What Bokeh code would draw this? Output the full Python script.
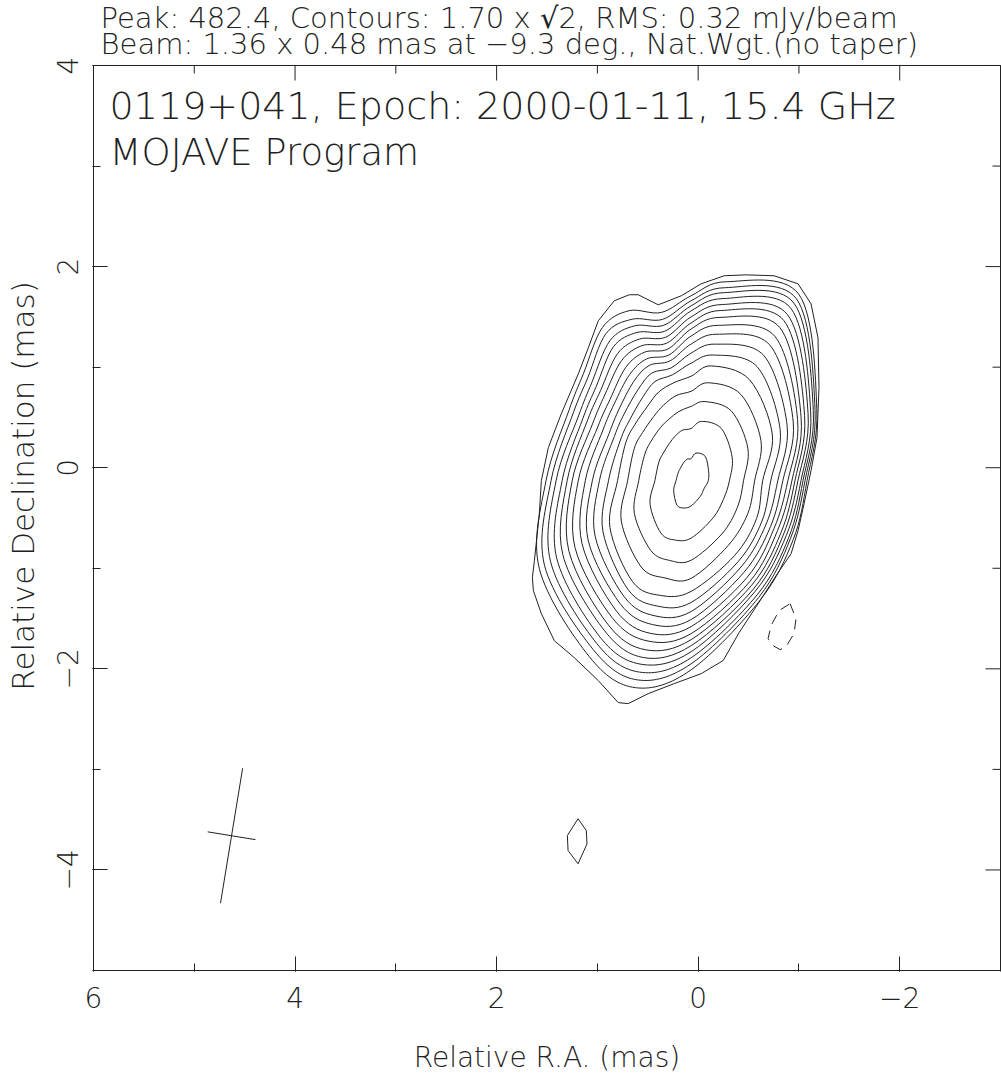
import numpy as np
from bokeh.plotting import figure
from bokeh.models import Range1d, SingleIntervalTicker, Label
from bokeh.embed import file_html
from bokeh.resources import INLINE

# ---------------- text ----------------
FONT = "DejaVu Sans Light, DejaVu Sans"
header_lines = ["Peak: 482.4, Contours: 1.70 x \u221a2, RMS: 0.32 mJy/beam",
                "Beam: 1.36 x 0.48 mas at \u22129.3 deg., Nat.Wgt.(no taper)"]
inner_lines = ["0119+041, Epoch: 2000-01-11, 15.4 GHz", "MOJAVE Program"]
x_label = "Relative R.A. (mas)"
y_label = "Relative Declination (mas)"
x_tick_labels = {6: "6", 4: "4", 2: "2", 0: "0", -2: "\u22122"}
y_tick_labels = {4: "4", 2: "2", 0: "0", -2: "\u22122", -4: "\u22124"}
x_major_ticks = [6, 4, 2, 0, -2]
x_minor_ticks = [5, 3, 1, -1, -3]
y_major_ticks = [4, 2, 0, -2, -4]
y_minor_ticks = [3, 1, -1, -3, -5]
map_ra = (6, -3)      # R.A. extent of the map box (mas)
map_dec = (-5, 4)     # Dec. extent of the map box (mas)

# ---------------- restoring beam ----------------
beam_major = 1.36
beam_minor = 0.48
beam_pa_deg = -9.3
beam_center_x = 4.63
beam_center_y = -3.66

# ---------------- contours (mas) ----------------
# outermost contour (1.70 mJy/beam), read point by point
outer_x = [0.833, 0.684, 0.595, 0.396, 0.168, -0.030, -0.258, -0.476, -0.753, -0.991,
           -1.120, -1.189, -1.199, -1.179, -1.120, -1.051, -0.991, -0.922, -0.773, -0.595,
           -0.406, -0.248, -0.030, 0.238, 0.496, 0.694, 0.793, 0.991, 1.229, 1.427,
           1.556, 1.635, 1.645, 1.625, 1.576, 1.556, 1.487, 1.358, 1.189, 1.090, 0.991]
outer_y = [1.660, 1.720, 1.720, 1.620, 1.710, 1.829, 1.909, 1.918, 1.909, 1.829,
           1.630, 1.292, 0.795, 0.298, -0.030, -0.358, -0.626, -0.855, -1.074, -1.352,
           -1.640, -1.918, -2.048, -2.147, -2.247, -2.346, -2.336, -2.117, -1.889, -1.720,
           -1.451, -1.223, -1.093, -0.924, -0.457, -0.129, 0.199, 0.537, 0.934, 1.193, 1.461]

# the 16 higher contours: distance (mas) from the core along fixed screen directions
# (0 deg = west / right, 90 deg = north / up), listed from the 2nd contour to the peak one
core_x = 0.07
core_y = -0.13
ring_dir_deg = [0, 30, 60, 80, 90, 100, 110, 120, 135, 150, 180, 210, 240, 255, 270, 300, 330]
r_000 = [1.15, 1.13, 1.11, 1.09, 1.06, 1.03, 1.00, 0.96, 0.91, 0.86, 0.79, 0.71, 0.63, 0.52, 0.38, 0.17]
r_030 = [1.44, 1.42, 1.40, 1.37, 1.34, 1.30, 1.26, 1.22, 1.17, 1.10, 1.02, 0.93, 0.80, 0.65, 0.47, 0.20]
r_060 = [2.14, 2.09, 2.04, 1.98, 1.91, 1.84, 1.76, 1.66, 1.56, 1.44, 1.31, 1.16, 0.99, 0.80, 0.60, 0.28]
r_080 = [2.01, 1.95, 1.90, 1.84, 1.78, 1.72, 1.65, 1.57, 1.48, 1.38, 1.27, 1.16, 0.99, 0.80, 0.60, 0.28]
r_090 = [1.84, 1.79, 1.74, 1.69, 1.63, 1.57, 1.51, 1.44, 1.36, 1.27, 1.17, 1.04, 0.89, 0.74, 0.52, 0.22]
r_100 = [1.70, 1.63, 1.57, 1.51, 1.45, 1.39, 1.33, 1.27, 1.21, 1.14, 1.07, 0.99, 0.86, 0.70, 0.51, 0.22]
r_110 = [1.80, 1.71, 1.64, 1.57, 1.50, 1.43, 1.36, 1.29, 1.22, 1.14, 1.05, 0.94, 0.80, 0.65, 0.47, 0.20]
r_120 = [1.76, 1.69, 1.61, 1.54, 1.46, 1.38, 1.30, 1.22, 1.14, 1.05, 0.96, 0.86, 0.74, 0.61, 0.43, 0.18]
r_135 = [1.51, 1.45, 1.39, 1.33, 1.27, 1.21, 1.14, 1.08, 1.01, 0.94, 0.86, 0.79, 0.68, 0.56, 0.39, 0.16]
r_150 = [1.40, 1.35, 1.29, 1.24, 1.19, 1.13, 1.07, 1.01, 0.94, 0.88, 0.81, 0.75, 0.65, 0.53, 0.37, 0.15]
r_180 = [1.44, 1.39, 1.34, 1.28, 1.23, 1.18, 1.12, 1.05, 0.98, 0.91, 0.82, 0.73, 0.63, 0.52, 0.36, 0.15]
r_210 = [1.74, 1.68, 1.61, 1.54, 1.47, 1.40, 1.33, 1.25, 1.18, 1.10, 1.01, 0.93, 0.80, 0.65, 0.47, 0.20]
r_240 = [2.02, 1.94, 1.87, 1.80, 1.72, 1.65, 1.57, 1.49, 1.41, 1.33, 1.25, 1.16, 0.99, 0.80, 0.60, 0.28]
r_255 = [2.13, 2.05, 1.97, 1.89, 1.82, 1.74, 1.65, 1.57, 1.48, 1.39, 1.29, 1.18, 1.00, 0.82, 0.61, 0.28]
r_270 = [1.88, 1.82, 1.76, 1.70, 1.64, 1.58, 1.52, 1.45, 1.38, 1.30, 1.21, 1.10, 0.97, 0.79, 0.57, 0.25]
r_300 = [1.37, 1.34, 1.31, 1.27, 1.24, 1.20, 1.16, 1.11, 1.05, 0.99, 0.93, 0.86, 0.74, 0.61, 0.43, 0.18]
r_330 = [1.17, 1.14, 1.12, 1.09, 1.06, 1.03, 0.99, 0.95, 0.91, 0.86, 0.81, 0.75, 0.65, 0.53, 0.37, 0.15]

# isolated positive contour and negative (dashed) contour
blob_x = [1.192, 1.110, 1.103, 1.192, 1.291, 1.298]
blob_y = [-3.491, -3.608, -3.741, -3.939, -3.807, -3.658]
neg_x = [-0.912, -0.971, -0.951, -0.872, -0.813, -0.743, -0.694, -0.723, -0.803]
neg_y = [-1.352, -1.501, -1.650, -1.779, -1.809, -1.769, -1.700, -1.571, -1.421]

INK = "#222222"
PX_X = 1 / 100.78     # one screen pixel in mas (horizontal)
PX_Y = 1 / 100.56     # one screen pixel in mas (vertical)

# the plotting area also covers the header strip above the map box
p = figure(width=1001, height=1079,
           x_range=Range1d(map_ra[0] + PX_X, map_ra[1] - PX_X),
           y_range=Range1d(map_dec[0] - PX_Y, map_dec[1] + 65 * PX_Y),
           output_backend="svg", toolbar_location=None,
           min_border_left=92, min_border_right=0, min_border_top=0, min_border_bottom=108)
p.background_fill_color = "white"
p.border_fill_color = "white"
p.outline_line_color = None
p.xgrid.visible = False
p.ygrid.visible = False

for ax in (p.xaxis[0], p.yaxis[0]):
    ax.ticker = SingleIntervalTicker(interval=2, num_minor_ticks=2)
    ax.major_tick_in = 15
    ax.major_tick_out = 0
    ax.minor_tick_in = 8
    ax.minor_tick_out = 0
    ax.major_tick_line_color = INK
    ax.minor_tick_line_color = INK
    ax.axis_line_color = None
    ax.major_label_text_font = FONT
    ax.major_label_text_color = INK
    ax.major_label_text_font_size = "28px"
    ax.axis_label_text_font = FONT
    ax.axis_label_text_color = INK
    ax.axis_label_text_font_style = "normal"

xa = p.xaxis[0]
ya = p.yaxis[0]
xa.major_label_overrides = x_tick_labels
ya.major_label_overrides = y_tick_labels
xa.axis_label = x_label
ya.axis_label = y_label
xa.axis_label_text_font_size = "28px"
ya.axis_label_text_font_size = "31px"
xa.major_label_standoff = 15
xa.axis_label_standoff = 30
ya.major_label_orientation = "vertical"
ya.major_label_standoff = 14
ya.axis_label_standoff = 14

# map box
p.quad(left=[map_ra[0]], right=[map_ra[1]], bottom=[map_dec[0]], top=[map_dec[1]],
       fill_color=None, line_color=INK, line_width=1)

# tick marks on the top and right edges of the box
top_x = x_major_ticks + x_minor_ticks
top_len = [15 * PX_Y] * len(x_major_ticks) + [8 * PX_Y] * len(x_minor_ticks)
p.segment(x0=top_x, y0=[map_dec[1]] * len(top_x), x1=top_x,
          y1=[map_dec[1] - l for l in top_len], line_color=INK, line_width=1)
right_y = y_major_ticks + y_minor_ticks
right_len = [15 * PX_X] * len(y_major_ticks) + [8 * PX_X] * len(y_minor_ticks)
p.segment(x0=[map_ra[1]] * len(right_y), y0=right_y,
          x1=[map_ra[1] + l for l in right_len], y1=right_y, line_color=INK, line_width=1)

# outer contour
p.line(outer_x + outer_x[:1], outer_y + outer_y[:1], line_color=INK, line_width=1)

# higher contours: smooth closed curves through the measured points
radii = np.array([r_000, r_030, r_060, r_080, r_090, r_100, r_110, r_120, r_135,
                  r_150, r_180, r_210, r_240, r_255, r_270, r_300, r_330])
th = np.radians(ring_dir_deg)
bx0, by0, bx1, by1, bcx0, bcy0, bcx1, bcy1 = ([] for _ in range(8))
for k in range(radii.shape[1]):
    r = radii[:, k]
    P = np.column_stack([core_x - r * np.cos(th), core_y + r * np.sin(th)])
    n = len(P)
    for i in range(n):
        a, b, c, d = P[i - 1], P[i], P[(i + 1) % n], P[(i + 2) % n]
        c0 = b + (c - a) / 6.0
        c1 = c - (d - b) / 6.0
        bx0.append(b[0]); by0.append(b[1]); bx1.append(c[0]); by1.append(c[1])
        bcx0.append(c0[0]); bcy0.append(c0[1]); bcx1.append(c1[0]); bcy1.append(c1[1])
p.bezier(x0=bx0, y0=by0, x1=bx1, y1=by1, cx0=bcx0, cy0=bcy0, cx1=bcx1, cy1=bcy1,
         line_color=INK, line_width=1)

p.line(blob_x + blob_x[:1], blob_y + blob_y[:1], line_color=INK, line_width=1)
p.line(neg_x + neg_x[:1], neg_y + neg_y[:1], line_color=INK, line_width=1, line_dash="10 7")

# beam cross
pa = np.radians(beam_pa_deg)
ux, uy = np.sin(pa), np.cos(pa)          # along major axis (east = +x)
vx, vy = np.cos(pa), -np.sin(pa)         # along minor axis
p.segment(x0=[beam_center_x - ux * beam_major / 2, beam_center_x - vx * beam_minor / 2],
          y0=[beam_center_y - uy * beam_major / 2, beam_center_y - vy * beam_minor / 2],
          x1=[beam_center_x + ux * beam_major / 2, beam_center_x + vx * beam_minor / 2],
          y1=[beam_center_y + uy * beam_major / 2, beam_center_y + vy * beam_minor / 2],
          line_color=INK, line_width=1)

# header (two lines above the map box)
for txt, yy in zip(header_lines, [4.472, 4.209]):
    p.add_layout(Label(x=5.93, y=yy, text=txt, text_font=FONT, text_font_size="29px",
                       text_color=INK, text_align="left", text_baseline="alphabetic"))

# in-box titles
for txt, yy, fs in zip(inner_lines, [3.60, 3.13], ["38px", "37px"]):
    p.add_layout(Label(x=5.84, y=yy, text=txt, text_font=FONT, text_font_size=fs,
                       text_color=INK, text_align="left", text_baseline="alphabetic"))

open("out.html", "w").write(file_html(p, INLINE))
